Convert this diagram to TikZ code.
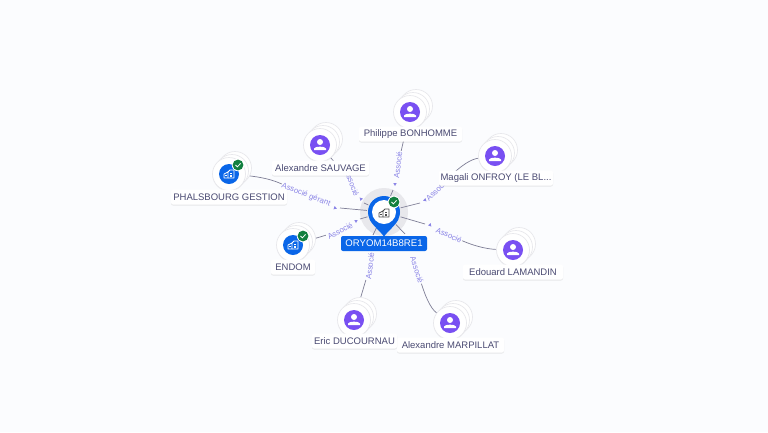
\documentclass[tikz,border=0pt]{standalone}
\usepackage{fontspec}
\setmainfont{Liberation Sans}
\usetikzlibrary{shadows,shapes.geometric}
\definecolor{bgc}{HTML}{FBFCFE}
\definecolor{linkc}{HTML}{7E7E96}
\definecolor{lblc}{HTML}{8A84E6}
\definecolor{txtc}{HTML}{4A4A72}
\definecolor{purp}{HTML}{7950F2}
\definecolor{blu}{HTML}{0A66E8}
\definecolor{grn}{HTML}{12803F}
\definecolor{ringc}{HTML}{E8E8EC}
\tikzset{
  link/.style={draw=linkc,line width=.7pt},
  elabel/.style={font=\fontsize{7.8}{8}\selectfont,text=lblc,inner sep=.6pt},
  tipmark/.style={regular polygon,regular polygon sides=3,fill=lblc,inner sep=0pt,minimum size=4pt},
  namebox/.style={fill=white,rounded corners=2pt,minimum height=15pt,inner ysep=0pt,inner xsep=0pt,text=txtc,
    font=\fontsize{9.5}{10}\selectfont,drop shadow={opacity=.16,shadow xshift=0pt,shadow yshift=-1pt}},
  disc/.style={circle,fill=white,draw=ringc,line width=.7pt,minimum size=33pt,inner sep=0pt},
  anchorpt/.style={circle,minimum size=33pt,inner sep=0pt},
}
\newcommand{\stackdiscs}[2]{%
  \node[disc] at (#1+6,#2-6) {};
  \node[disc] at (#1+3,#2-3) {};
  \node[disc,drop shadow={opacity=.10,shadow xshift=0pt,shadow yshift=-1pt}] at (#1,#2) {};
}
\newcommand{\persicon}[2]{%
  \fill[purp] (#1,#2) circle (10);
  \fill[white] (#1,#2-3) circle (3);
  \fill[white] (#1-6,#2+5) -- (#1-6,#2+3.5) .. controls (#1-5,#2+1) and (#1+5,#2+1) .. (#1+6,#2+3.5) -- (#1+6,#2+5) -- cycle;
}
\newcommand{\okbadge}[2]{%
  \fill[white] (#1,#2) circle (6.2);
  \fill[grn] (#1,#2) circle (5.4);
  \draw[white,line width=.8pt] (#1-2.5,#2) -- (#1-.6,#2+1.8) -- (#1+2.6,#2-1.6);
}
\newcommand{\bldicon}[3]{%
  \draw[#3,line width=.8pt,line join=round] (#1-5,#2+4) -- (#1-5,#2) -- (#1-1,#2-2) -- (#1-1,#2+4) -- cycle;
  \draw[#3,line width=.8pt,line join=round] (#1-1,#2-2) -- (#1+1,#2-4) -- (#1+5,#2-4) -- (#1+5,#2+4) -- (#1-1,#2+4);
  \fill[#3] (#1-3.6,#2+1) rectangle (#1-2.2,#2+2.4);
  \fill[#3] (#1+1.2,#2-1.5) rectangle (#1+3.2,#2);
  \fill[#3] (#1+1.2,#2+1) rectangle (#1+3.2,#2+2.5);
}
\begin{document}
\begin{tikzpicture}[x=1pt,y=-1pt]
\useasboundingbox (0,0) rectangle (768,432);
\fill[bgc] (0,0) rectangle (768,432);
\fill[ringc] (384,212) circle (24);
% anchors for connectors
\node[circle,minimum size=34pt,inner sep=0pt] (core) at (384,212) {};
\node[anchorpt] (phil) at (410,112) {};
\node[anchorpt] (sauv) at (320,145) {};
\node[anchorpt] (onfr) at (495,156) {};
\node[anchorpt] (lama) at (513,250) {};
\node[anchorpt] (marp) at (450,323) {};
\node[anchorpt] (duco) at (354,320) {};
\node[anchorpt] (endo) at (293,245) {};
\node[anchorpt] (phal) at (229,174) {};
% edge labels
\node[elabel,rotate=-21] (e1) at (306,195) {Associé gérant};
\node[elabel,rotate=28] (e2) at (340,231) {Associé};
\node[elabel,rotate=-70] (e3) at (352,183) {Associé};
\node[elabel,rotate=83] (e4) at (398,165) {Associé};
\node[elabel,rotate=44] (e5) at (437,190) {Associé};
\node[elabel,rotate=-24] (e6) at (449,235) {Associé};
\node[elabel,rotate=-72] (e7) at (417,270) {Associé};
\node[elabel,rotate=83] (e8) at (370,266) {Associé};
% small arrow tips
\node[tipmark,rotate=-110] (t1) at (335,208) {};
\node[tipmark,rotate=-60] (t2) at (356,221) {};
\node[tipmark,rotate=160] (t3) at (361,199) {};
\node[tipmark,rotate=180] (t4) at (395,184) {};
\node[tipmark,rotate=-130] (t5) at (425,200) {};
\node[tipmark,rotate=100] (t6) at (430,225) {};
\coordinate (g1) at (340,208);
\coordinate (g2) at (360,219);
\coordinate (g3) at (364,203);
\coordinate (g4) at (393,190);
\coordinate (g5) at (420,203);
\coordinate (g6) at (425,224);
\coordinate (g7) at (405,234);
\coordinate (g8) at (373,235);
% connectors
\draw[link] (phal) .. controls (262,177) and (273,180) .. (e1);
\draw[link] (g1) -- (core);
\draw[link] (endo) -- (e2);
\draw[link] (g2) -- (core);
\draw[link] (sauv) -- (e3);
\draw[link] (g3) -- (core);
\draw[link] (phil) -- (e4);
\draw[link] (g4) -- (core);
\draw[link] (onfr) .. controls (472,159) and (462,164) .. (e5);
\draw[link] (g5) -- (core);
\draw[link] (lama) .. controls (485,249) and (472,245) .. (e6);
\draw[link] (g6) -- (core);
\draw[link] (marp) .. controls (430,308) and (425,295) .. (e7);
\draw[link] (g7) -- (core);
\draw[link] (duco) -- (e8);
\draw[link] (g8) -- (core);
% people
\stackdiscs{410}{112}\persicon{410}{112}
\stackdiscs{320}{145}\persicon{320}{145}
\stackdiscs{495}{156}\persicon{495}{156}
\stackdiscs{513}{250}\persicon{513}{250}
\stackdiscs{450}{323}\persicon{450}{323}
\stackdiscs{354}{320}\persicon{354}{320}
% companies
\stackdiscs{293}{245}
\fill[blu] (293,245) circle (10); \bldicon{293}{245}{white} \okbadge{303}{236}
\stackdiscs{229}{174}
\fill[blu] (229,174) circle (10); \bldicon{229}{174}{white} \okbadge{238}{165}
% names
\node[namebox,minimum width=103pt] (n1) at (410.5,134) {Philippe BONHOMME};
\node[namebox,minimum width=97pt] (n2) at (320.5,168) {Alexandre SAUVAGE};
\node[namebox,minimum width=114pt] (n3) at (496,178) {Magali ONFROY (LE BL...};
\node[namebox,minimum width=100pt] (n4) at (513,272) {Edouard LAMANDIN};
\node[namebox,minimum width=107pt] (n5) at (450.5,345) {Alexandre MARPILLAT};
\node[namebox,minimum width=85pt] (n6) at (354.5,341) {Eric DUCOURNAU};
\node[namebox,minimum width=44pt] (n7) at (293,267) {ENDOM};
\node[namebox,minimum width=116pt] (n8) at (229,197) {PHALSBOURG GESTION};
% central pin
\fill[blu] (369.5,219) .. controls (372,225) and (380,231) .. (384,236.5) .. controls (388,231) and (396,225) .. (398.5,219) -- cycle;
\fill[blu] (384,212) circle (16);
\fill[white] (384,212) circle (12);
\bldicon{384}{213}{black!70}
\okbadge{394}{202}
\node[fill=blu,rounded corners=2pt,text=white,minimum width=86pt,minimum height=15pt,inner sep=0pt,font=\fontsize{9.6}{10}\selectfont] (main) at (384,243.5) {ORYOM14B8RE1};
\end{tikzpicture}
\end{document}
